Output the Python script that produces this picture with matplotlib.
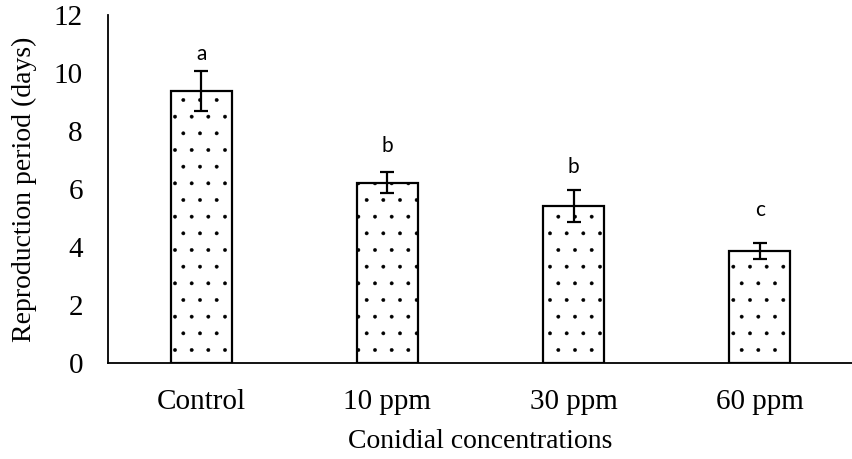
import matplotlib.pyplot as plt

# Data
categories = ["Control", "10 ppm", "30 ppm", "60 ppm"]
means = [9.38, 6.22, 5.42, 3.87]
errors = [0.69, 0.36, 0.55, 0.28]
letters = ["a", "b", "b", "c"]
letter_y = [10.66, 7.47, 6.75, 5.26]

plt.rcParams['font.family'] = ['Liberation Serif', 'DejaVu Serif']
plt.rcParams['hatch.linewidth'] = 0.3

fig = plt.figure(figsize=(8.53, 4.59), dpi=100)
ax = fig.add_axes([0.1266, 0.2092, 0.8734, 0.758])

x = range(len(categories))
ax.bar(x, means, width=0.327, color='white', edgecolor='black',
       linewidth=1.6, hatch='.', zorder=2)
ax.errorbar(x, means, yerr=errors, fmt='none', ecolor='black',
            elinewidth=1.6, capsize=5, capthick=1.6, zorder=3)

# significance letters above the error bars
for xi, ly, lab in zip(x, letter_y, letters):
    ax.text(xi, ly, lab, ha='center', va='center', fontsize=15,
            family=['Lato', 'DejaVu Sans'])

ax.set_xlim(-0.5, 3.5)
ax.set_ylim(0, 12)
ax.set_yticks(range(0, 13, 2))
ax.set_xticks(list(x))
ax.set_xticklabels(categories)
ax.tick_params(length=0, labelsize=21)
ax.tick_params(axis='x', pad=19)
ax.tick_params(axis='y', pad=18)
for s in ['top', 'right']:
    ax.spines[s].set_visible(False)
for s in ['left', 'bottom']:
    ax.spines[s].set_linewidth(1.3)

ax.set_xlabel("Conidial concentrations", fontsize=20, labelpad=10)
ax.set_ylabel("Reproduction period (days)", fontsize=20, labelpad=12)

fig.savefig("out.png", dpi=100)
